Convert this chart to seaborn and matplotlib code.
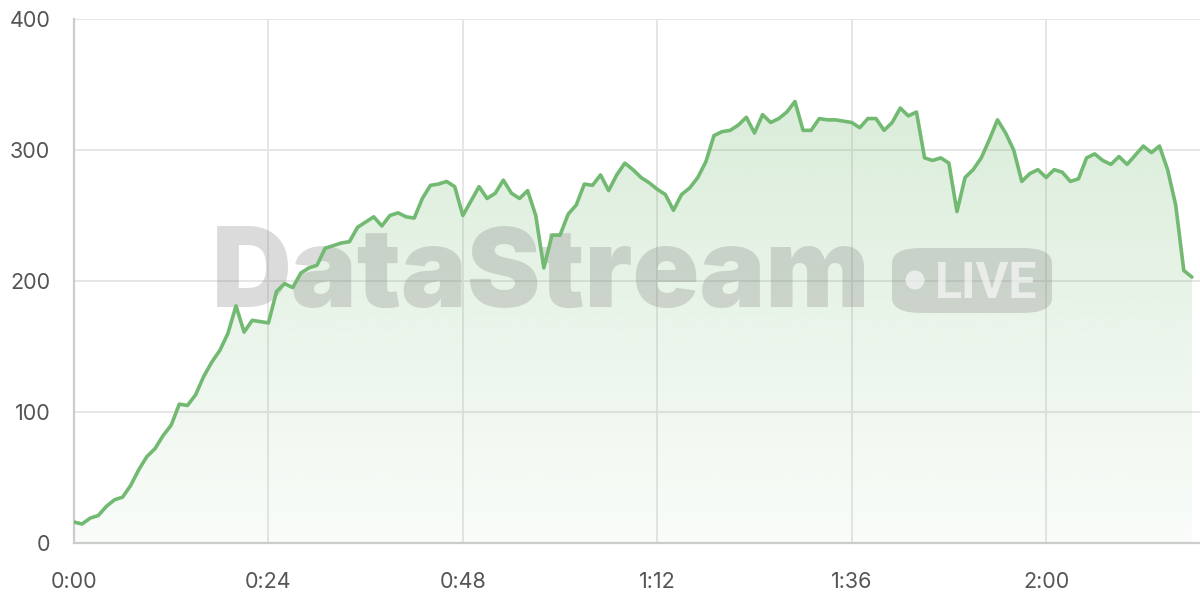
import numpy as np
import pandas as pd
import matplotlib.pyplot as plt
import seaborn as sns
from matplotlib.patches import FancyBboxPatch, Ellipse
from matplotlib.colors import to_rgba

# datos (una muestra por unidad de tiempo)
valores = [
    16, 14.5, 19, 21, 28, 33, 35, 44, 56, 66,
    72, 82, 90, 106, 105, 113, 127, 138, 147, 160,
    181, 161, 170, 169, 168, 192, 198, 195, 206, 210,
    212, 225, 227, 229, 230, 241, 245, 249, 242, 250,
    252, 249, 248, 263, 273, 274, 276, 272, 250, 261,
    272, 263, 267, 277, 267, 263, 269, 250, 210, 235,
    235, 251, 258, 274, 273, 281, 269, 281, 290, 285,
    279, 275, 270, 266, 254, 266, 271, 279, 291, 311,
    314, 315, 319, 325, 313, 327, 321, 324, 329, 337,
    315, 315, 324, 323, 323, 322, 321, 317, 324, 324,
    315, 321, 332, 326, 329, 294, 292, 294, 290, 253,
    279, 285, 294, 308, 323, 313, 300, 276, 282, 285,
    279, 285, 283, 276, 278, 294, 297, 292, 289, 295,
    289, 296, 303, 298, 303, 285, 258, 208, 203,
]
tiempo = list(range(len(valores)))
ticks_x = [0, 24, 48, 72, 96, 120]
etiquetas_x = ["0:00", "0:24", "0:48", "1:12", "1:36", "2:00"]
ticks_y = [0, 100, 200, 300, 400]

df = pd.DataFrame({"t": tiempo, "v": valores})

verde = "#72b972"
gris_txt = "#555555"
gris_linea = "#e4e4e4"

sns.set_style("white")
plt.rcParams["font.family"] = ["Inter", "DejaVu Sans"]

fig = plt.figure(figsize=(12, 6), dpi=100)
ax = fig.add_axes([74 / 1200, 57 / 600, 1 - 74 / 1200, 524 / 600])

# relleno con degradado
poly = ax.fill_between(df["t"], df["v"], 0, color="none", lw=0)
grad = np.linspace(0.04, 0.26, 256).reshape(-1, 1)
rgba = np.zeros((256, 1, 4))
rgba[..., :3] = to_rgba(verde)[:3]
rgba[..., 3] = grad
img = ax.imshow(rgba, extent=[0, max(tiempo), 0, max(valores)], origin="lower",
                aspect="auto", zorder=1)
img.set_clip_path(poly.get_paths()[0], transform=ax.transData)

sns.lineplot(data=df, x="t", y="v", ax=ax, color=verde, lw=2.6, zorder=5)

ax.set_xlim(0, 139)
ax.set_ylim(0, 400)
ax.set_xticks(ticks_x)
ax.set_xticklabels(etiquetas_x)
ax.set_yticks(ticks_y)
ax.set_xlabel("")
ax.set_ylabel("")
ax.grid(True, color=gris_linea, lw=1.3, zorder=0)
ax.set_axisbelow(True)
for s in ["top", "right"]:
    ax.spines[s].set_visible(False)
for s in ["left", "bottom"]:
    ax.spines[s].set_color("#cccccc")
    ax.spines[s].set_linewidth(1.6)
ax.tick_params(axis="x", length=11, width=1.3, color=gris_linea, pad=10,
               labelsize=15.5, labelcolor=gris_txt)
ax.tick_params(axis="y", length=11, width=1.3, color=gris_linea, pad=6,
               labelsize=15.5, labelcolor=gris_txt)

# marca de agua (debajo de la linea)
tf = fig.transFigure
ax.text(541 / 1200, 1 - 307 / 600, "DataStream", transform=tf, ha="center",
        va="baseline", fontsize=79.5, fontweight="black", color="#808080",
        alpha=0.28, zorder=3, clip_on=False)
caja = FancyBboxPatch((892 / 1200, 1 - 313 / 600), 160 / 1200, 65 / 600,
                      boxstyle="round,pad=0,rounding_size=0.025",
                      transform=tf, facecolor="#808080",
                      edgecolor="none", alpha=0.28, zorder=3, clip_on=False)
ax.add_artist(caja)
punto = Ellipse((915 / 1200, 1 - 280 / 600), 19 / 1200, 19 / 600, transform=tf,
                facecolor="white", edgecolor="none", alpha=0.6, zorder=4,
                clip_on=False)
ax.add_artist(punto)
ax.text(986 / 1200, 1 - 298 / 600, "LIVE", transform=tf, ha="center",
        va="baseline", fontsize=36, fontweight="bold", family="Roboto",
        color="white", alpha=0.6, zorder=4, clip_on=False)

fig.savefig("out.png", dpi=100)
